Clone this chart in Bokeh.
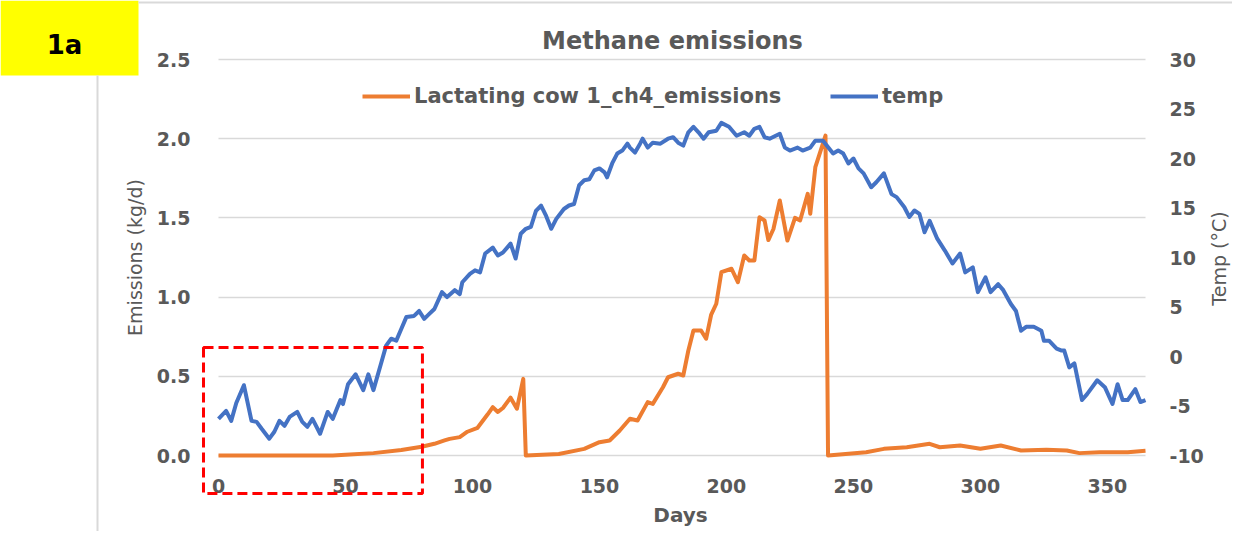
import math
from bokeh.plotting import figure
from bokeh.models import (Range1d, LinearAxis, Legend, LegendItem, BoxAnnotation,
                          Label, FixedTicker, PrintfTickFormatter)
from bokeh.embed import file_html
from bokeh.resources import INLINE

# ---------------- data ----------------
temp_days = [0, 3, 5, 7, 10, 13, 15, 17, 20, 22, 24, 26, 28, 31, 33, 35, 37, 40, 43, 45,
             48, 49, 51, 54, 57, 59, 61, 64, 66, 68, 70, 72, 74, 77, 79, 81, 83, 85, 88, 90,
             93, 95, 96, 99, 101, 103, 105, 108, 110, 112, 115, 117, 119, 121, 123, 125, 127,
             129, 131, 133, 136, 138, 140, 142, 144, 146, 148, 150, 152, 153, 155, 157, 159,
             161, 162, 164, 166, 167, 169, 171, 174, 177, 179, 181, 183, 185, 187, 189, 191,
             193, 196, 198, 201, 204, 207, 209, 211, 213, 215, 217, 221, 223, 225, 228, 230,
             233, 235, 238, 242, 244, 246, 248, 250, 252, 254, 257, 259, 262, 265, 267, 270,
             272, 274, 276, 278, 280, 283, 286, 289, 292, 294, 297, 299, 302, 304, 307, 309,
             312, 314, 316, 318, 321, 324, 325, 327, 330, 332, 333, 335, 337, 340, 342, 346,
             349, 352, 354, 356, 358, 361, 363, 365]
temp_vals = [-6.3, -5.5, -6.5, -4.7, -2.9, -6.5, -6.6, -7.3, -8.3, -7.6, -6.5, -7.0, -6.1, -5.6,
             -6.6, -7.1, -6.3, -7.8, -5.6, -6.3, -4.4, -4.8, -2.8, -1.8, -3.4, -1.8, -3.4, -0.7,
             1.1, 1.8, 1.6, 2.8, 4.0, 4.1, 4.6, 3.8, 4.3, 4.8, 6.5, 6.0, 6.7, 6.3, 7.5, 8.35,
             8.7, 8.5, 10.4, 11.0, 10.2, 10.5, 11.4, 9.9, 12.4, 12.9, 13.1, 14.7, 15.25, 14.2,
             12.9, 13.9, 14.9, 15.25, 15.4, 17.3, 17.8, 17.9, 18.8, 19.0, 18.6, 18.1, 19.5,
             20.5, 20.8, 21.5, 21.1, 20.6, 21.5, 22.0, 21.1, 21.6, 21.5, 22.0, 22.15, 21.6,
             21.3, 22.65, 23.2, 22.65, 22.0, 22.65, 22.8, 23.6, 23.2, 22.3, 22.65, 22.3, 23.0,
             23.2, 22.15, 22.0, 22.5, 21.1, 20.8, 21.1, 20.8, 21.1, 21.8, 21.8, 20.5, 20.8,
             20.5, 19.5, 20.0, 19.0, 18.5, 17.1, 17.6, 18.5, 16.4, 16.1, 15.1, 14.1, 14.75,
             14.4, 12.55, 13.7, 11.9, 10.7, 9.4, 10.4, 8.5, 9.0, 6.5, 8.0, 6.5, 7.3, 6.7, 5.3,
             4.6, 2.6, 3.0, 3.0, 2.6, 1.6, 1.6, 0.8, 0.6, 0.6, -1.1, -0.7, -4.4, -3.8, -2.4,
             -3.1, -4.8, -2.8, -4.4, -4.4, -3.3, -4.6, -4.4]

ch4_days = [0, 45, 50, 61, 72, 80, 85, 89, 91, 95, 98, 102, 106, 108, 110, 112, 115, 117.5,
            120, 121, 134, 144, 150, 154, 158, 162, 165, 169, 171, 175, 177, 181, 183, 185,
            187, 190, 192, 194, 196, 198, 202, 204.5, 207, 209, 211, 213, 215, 216.5, 218.5,
            221, 224, 227, 229, 232, 233, 235, 239, 240, 255, 262, 271, 280, 284, 292, 300,
            308, 316, 326, 334, 339, 347, 358, 365]
ch4_vals = [0.0, 0.0, 0.005, 0.015, 0.035, 0.055, 0.074, 0.095, 0.105, 0.116, 0.15, 0.175,
            0.26, 0.305, 0.275, 0.3, 0.365, 0.295, 0.484, 0.0, 0.01, 0.042, 0.084, 0.095,
            0.158, 0.232, 0.221, 0.337, 0.326, 0.431, 0.494, 0.516, 0.505, 0.663, 0.789,
            0.789, 0.737, 0.89, 0.958, 1.157, 1.179, 1.094, 1.263, 1.231, 1.231, 1.504, 1.484,
            1.36, 1.43, 1.61, 1.357, 1.5, 1.484, 1.652, 1.526, 1.82, 2.02, 0.0, 0.021, 0.042,
            0.052, 0.074, 0.052, 0.063, 0.042, 0.063, 0.032, 0.036, 0.032, 0.015, 0.021,
            0.021, 0.03]

x_ticks = [0, 50, 100, 150, 200, 250, 300, 350]
em_ticks = [0.0, 0.5, 1.0, 1.5, 2.0, 2.5]
temp_ticks = [-10, -5, 0, 5, 10, 15, 20, 25, 30]

title_text = "Methane emissions"
series_ch4 = "Lactating cow 1_ch4_emissions"
series_temp = "temp"
panel_tag = "1a"
x_title = "Days"
y_title = "Emissions (kg/d)"
y2_title = "Temp (°C)"

# ---------------- layout ----------------
W, H = 1232, 531
# pixel box of the data area inside the canvas
PL, PR, PT, PB = 218, 1145, 59, 455
X0, X1 = 0, 365
Y0, Y1 = 0.0, 2.5
T0, T1 = -10, 30
kx = (PR - PL) / (X1 - X0)
ky = (PB - PT) / (Y1 - Y0)
xr = Range1d(X0 - PL / kx, X1 + (W - PR) / kx)
yr = Range1d(Y0 - (H - PB) / ky, Y1 + PT / ky)
tk = (T1 - T0) / (Y1 - Y0)
tr = Range1d(T0 + tk * (yr.start - Y0), T0 + tk * (yr.end - Y0))

GRAY = "#595959"
FONT = "DejaVu Sans"
ORANGE = "#ED7D31"
BLUE = "#4472C4"

p = figure(width=W, height=H, output_backend="svg", toolbar_location=None,
           x_range=xr, y_range=yr, title=None,
           min_border_left=0, min_border_right=0, min_border_top=0, min_border_bottom=0)
p.outline_line_color = None
p.extra_y_ranges = {"temp": tr}

# grid
p.xgrid.grid_line_color = None
p.ygrid.ticker = FixedTicker(ticks=em_ticks)
p.ygrid.bounds = (Y0, Y1)
p.ygrid.grid_line_color = "#D9D9D9"
p.ygrid.grid_line_width = 1.5
try:
    p.ygrid.cross_bounds = (X0, X1)
except AttributeError:
    p.xgrid.grid_line_color = None
    p.ygrid.grid_line_color = None
    p.segment(x0=[X0] * len(em_ticks), x1=[X1] * len(em_ticks), y0=em_ticks, y1=em_ticks,
              line_color="#D9D9D9", line_width=1.5, level="underlay")

def style_axis(ax, standoff):
    ax.axis_line_color = None
    ax.major_tick_line_color = None
    ax.minor_tick_line_color = None
    ax.major_tick_out = 0
    ax.major_tick_in = 0
    ax.minor_tick_out = 0
    ax.minor_tick_in = 0
    ax.major_label_text_font = FONT
    ax.major_label_text_font_style = "bold"
    ax.major_label_text_font_size = "19px"
    ax.major_label_text_color = GRAY
    ax.major_label_standoff = standoff

xa = p.xaxis[0]
xa.ticker = FixedTicker(ticks=x_ticks)
xa.formatter = PrintfTickFormatter(format="%d")
xa.fixed_location = Y0
style_axis(xa, 23)

ya = p.yaxis[0]
ya.ticker = FixedTicker(ticks=em_ticks)
ya.formatter = PrintfTickFormatter(format="%.1f")
ya.fixed_location = X0
style_axis(ya, 28)

ra = LinearAxis(y_range_name="temp", ticker=FixedTicker(ticks=temp_ticks),
                formatter=PrintfTickFormatter(format="%d"))
ra.fixed_location = X1
style_axis(ra, 24)
p.add_layout(ra, "right")

# decorations (screen units: x from left, y up from bottom of canvas)
p.add_layout(BoxAnnotation(left=0, right=138, top=H, bottom=H - 75,
                           left_units="screen", right_units="screen",
                           top_units="screen", bottom_units="screen",
                           fill_color="#FFFF00", fill_alpha=1, line_color=None, level="underlay"))
p.add_layout(BoxAnnotation(left=96, right=98, top=H - 75, bottom=0,
                           left_units="screen", right_units="screen",
                           top_units="screen", bottom_units="screen",
                           fill_color="#D9D9D9", fill_alpha=1, line_color=None, level="underlay"))
p.add_layout(BoxAnnotation(left=138, right=W, top=H - 1, bottom=H - 3,
                           left_units="screen", right_units="screen",
                           top_units="screen", bottom_units="screen",
                           fill_color="#D9D9D9", fill_alpha=1, line_color=None, level="underlay"))

# lines
r_ch4 = p.line(ch4_days, ch4_vals, line_color=ORANGE, line_width=4, line_join="round")
r_temp = p.line(temp_days, temp_vals, y_range_name="temp", line_color=BLUE, line_width=4,
                line_join="round")

# red dashed box
p.add_layout(BoxAnnotation(left=-5.9, right=80.3, top=0.682, bottom=-0.24,
                           fill_alpha=0, line_color="#FF0000", line_alpha=1, line_width=3,
                           line_dash="10 5"))

# legends
def make_legend(label, r, x):
    return Legend(items=[LegendItem(label=label, renderers=[r])], location=(x, H - 108),
                  orientation="horizontal", padding=0, margin=0, border_line_color=None,
                  background_fill_alpha=0, glyph_width=48, glyph_height=24, label_height=24,
                  label_standoff=4, label_text_font=FONT, label_text_font_style="bold",
                  label_text_font_size="21px", label_text_color=GRAY)
p.add_layout(make_legend(series_ch4, r_ch4, 362))
p.add_layout(make_legend(series_temp, r_temp, 830))

# texts
def lab(text, x, y, size, style="normal", angle=0, color=GRAY):
    p.add_layout(Label(text=text, x=x, y=H - y, x_units="screen", y_units="screen",
                       text_font=FONT, text_font_size=size, text_font_style=style,
                       text_color=color, text_align="center", text_baseline="middle",
                       angle=angle))

lab(title_text, 672, 40, "24px", "bold")
lab(panel_tag, 64, 44, "26px", "bold", color="#000000")
lab(y_title, 134, 257, "19px", angle=math.pi / 2)
lab(y2_title, 1218, 258, "19px", angle=math.pi / 2)
lab(x_title, 680, 514, "20px", "bold")

open("out.html", "w").write(file_html(p, INLINE))
